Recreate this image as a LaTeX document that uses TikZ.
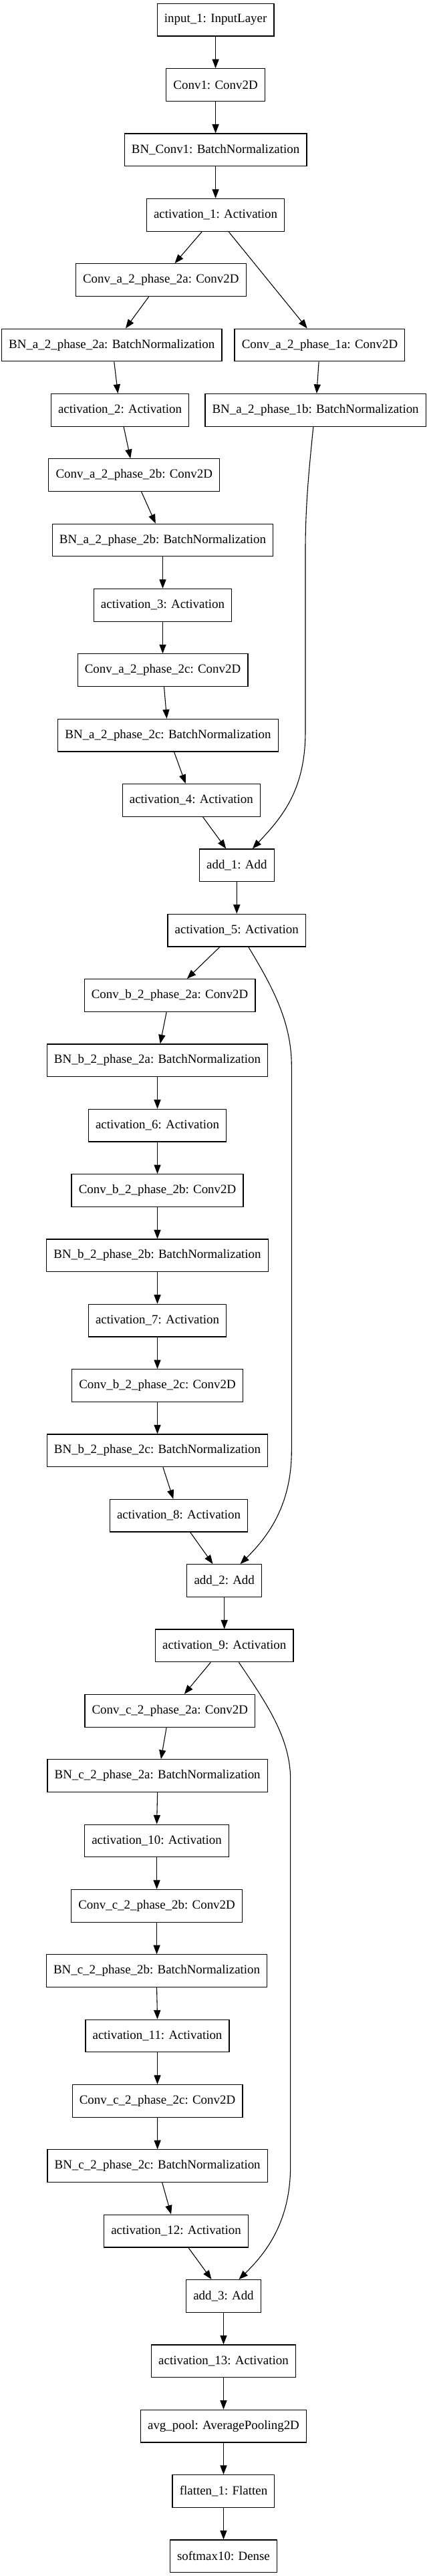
\documentclass[tikz,border=0pt]{standalone}
\usepackage{fontspec}
\setmainfont{Liberation Serif}
\usetikzlibrary{arrows.meta}
\tikzset{
  box/.style={draw, line width=0.9pt, rectangle, minimum height=36pt, inner xsep=7.9pt, inner ysep=0pt, font=\fontsize{14}{16}\selectfont, anchor=center},
  edge/.style={line width=0.8pt, -{Triangle[length=10pt,width=7.5pt]}}
}
\begin{document}
\begin{tikzpicture}[x=1pt,y=1pt]
\useasboundingbox (0,0) rectangle (472.6,-2852);
\fill[white] (0,0) rectangle (472.6,-2852);
% nodes
\node[box] (n1) at (238.6,-22) {input\_1: InputLayer};
\node[box] (n2) at (238.6,-94) {Conv1: Conv2D};
\node[box] (n3) at (238.6,-166) {BN\_Conv1: BatchNormalization};
\node[box] (n4) at (238.6,-238) {activation\_1: Activation};
\node[box] (n5) at (178.1,-310) {Conv\_a\_2\_phase\_2a: Conv2D};
\node[box] (n6) at (123.7,-382) {BN\_a\_2\_phase\_2a: BatchNormalization};
\node[box] (n6b) at (353.9,-382) {Conv\_a\_2\_phase\_1a: Conv2D};
\node[box] (n7) at (132.8,-454) {activation\_2: Activation};
\node[box] (n7b) at (349.2,-454) {BN\_a\_2\_phase\_1b: BatchNormalization};
\node[box] (n8) at (148.5,-526) {Conv\_a\_2\_phase\_2b: Conv2D};
\node[box] (n9) at (180.1,-598) {BN\_a\_2\_phase\_2b: BatchNormalization};
\node[box] (n10) at (180.1,-670) {activation\_3: Activation};
\node[box] (n11) at (180.1,-742) {Conv\_a\_2\_phase\_2c: Conv2D};
\node[box] (n12) at (186.0,-814) {BN\_a\_2\_phase\_2c: BatchNormalization};
\node[box] (n13) at (211.8,-886) {activation\_4: Activation};
\node[box] (n14) at (262.1,-958) {add\_1: Add};
\node[box] (n15) at (262.0,-1030) {activation\_5: Activation};
\node[box] (n16) at (187.9,-1102) {Conv\_b\_2\_phase\_2a: Conv2D};
\node[box] (n17) at (174.2,-1174) {BN\_b\_2\_phase\_2a: BatchNormalization};
\node[box] (n18) at (174.2,-1246) {activation\_6: Activation};
\node[box] (n19) at (174.2,-1318) {Conv\_b\_2\_phase\_2b: Conv2D};
\node[box] (n20) at (174.2,-1390) {BN\_b\_2\_phase\_2b: BatchNormalization};
\node[box] (n21) at (174.2,-1462) {activation\_7: Activation};
\node[box] (n22) at (174.2,-1534) {Conv\_b\_2\_phase\_2c: Conv2D};
\node[box] (n23) at (174.2,-1606) {BN\_b\_2\_phase\_2c: BatchNormalization};
\node[box] (n24) at (197.9,-1678) {activation\_8: Activation};
\node[box] (n25) at (248.3,-1750) {add\_2: Add};
\node[box] (n26) at (248.3,-1822) {activation\_9: Activation};
\node[box] (n27) at (188.1,-1894) {Conv\_c\_2\_phase\_2a: Conv2D};
\node[box] (n28) at (174.3,-1966) {BN\_c\_2\_phase\_2a: BatchNormalization};
\node[box] (n29) at (173.5,-2038) {activation\_10: Activation};
\node[box] (n30) at (173.5,-2110) {Conv\_c\_2\_phase\_2b: Conv2D};
\node[box] (n31) at (173.5,-2182) {BN\_c\_2\_phase\_2b: BatchNormalization};
\node[box] (n32) at (174.2,-2254) {activation\_11: Activation};
\node[box] (n33) at (174.2,-2326) {Conv\_c\_2\_phase\_2c: Conv2D};
\node[box] (n34) at (174.3,-2398) {BN\_c\_2\_phase\_2c: BatchNormalization};
\node[box] (n35) at (194.9,-2470) {activation\_12: Activation};
\node[box] (n36) at (247.4,-2542) {add\_3: Add};
\node[box] (n37) at (247.4,-2614) {activation\_13: Activation};
\node[box] (n38) at (247.4,-2686) {avg\_pool: AveragePooling2D};
\node[box] (n39) at (247.4,-2758) {flatten\_1: Flatten};
\node[box] (n40) at (247.4,-2830) {softmax10: Dense};
% edges
\draw[edge] (n1) -- (n2);
\draw[edge] (n2) -- (n3);
\draw[edge] (n3) -- (n4);
\draw[edge] ([xshift=-15pt]n4.south) -- ([xshift=15.3pt]n5.north);
\draw[edge] ([xshift=14.4pt]n4.south) -- ([xshift=-13.9pt]n6b.north);
\draw[edge] ([xshift=-13.4pt]n5.south) -- ([xshift=15.3pt]n6.north);
\draw[edge] ([xshift=2.6pt]n6.south) -- ([xshift=-2.3pt]n7.north);
\draw[edge] ([xshift=-1pt]n6b.south) -- ([xshift=1.3pt]n7b.north);
\draw[edge] ([xshift=4.1pt]n7.south) -- ([xshift=-4.1pt]n8.north);
\draw[edge] ([xshift=8pt]n8.south) -- ([xshift=-7.9pt]n9.north);
\draw[edge] (n9) -- (n10);
\draw[edge] (n10) -- (n11);
\draw[edge] ([xshift=1.5pt]n11.south) -- ([xshift=-1.4pt]n12.north);
\draw[edge] ([xshift=6.7pt]n12.south) -- ([xshift=-6.4pt]n13.north);
\draw[edge] ([xshift=12.7pt]n13.south) -- ([xshift=-11.9pt]n14.north);
\draw[edge] ([xshift=-2.4pt]n7b.south) .. controls (342,-520) and (338,-560) .. (338,-610)
  -- (338,-810) .. controls (338,-875) and (312,-905) .. ([xshift=17.4pt]n14.north);
\draw[edge] (n14) -- (n15);
\draw[edge] ([xshift=-18.8pt]n15.south) -- ([xshift=19.1pt]n16.north);
\draw[edge] ([xshift=13pt]n15.south) .. controls (300,-1090) and (322.7,-1130) .. (322.7,-1180)
  -- (322.7,-1606) .. controls (322.7,-1665) and (298,-1700) .. ([xshift=17.6pt]n25.north);
\draw[edge] ([xshift=-3.6pt]n16.south) -- ([xshift=3.1pt]n17.north);
\draw[edge] (n17) -- (n18);
\draw[edge] (n18) -- (n19);
\draw[edge] (n19) -- (n20);
\draw[edge] (n20) -- (n21);
\draw[edge] (n21) -- (n22);
\draw[edge] (n22) -- (n23);
\draw[edge] ([xshift=6.2pt]n23.south) -- ([xshift=-6.1pt]n24.north);
\draw[edge] ([xshift=12.7pt]n24.south) -- ([xshift=-12.7pt]n25.north);
\draw[edge] (n25) -- (n26);
\draw[edge] ([xshift=-15.1pt]n26.south) -- ([xshift=15.9pt]n27.north);
\draw[edge] ([xshift=16.1pt]n26.south) .. controls (292,-1882) and (321.5,-1922) .. (321.5,-1970)
  -- (321.5,-2398) .. controls (321.5,-2457) and (297,-2492) .. ([xshift=17pt]n36.north);
\draw[edge] ([xshift=-3.8pt]n27.south) -- ([xshift=3.9pt]n28.north);
\draw[edge] (n28.south) -- (n29.north);
\draw[edge] (n29) -- (n30);
\draw[edge] (n30) -- (n31);
\draw[edge] (n31.south) -- (n32.north);
\draw[edge] (n32) -- (n33);
\draw[edge] (n33) -- (n34);
\draw[edge] ([xshift=5.2pt]n34.south) -- ([xshift=-5.5pt]n35.north);
\draw[edge] ([xshift=13.6pt]n35.south) -- ([xshift=-13.3pt]n36.north);
\draw[edge] (n36) -- (n37);
\draw[edge] (n37) -- (n38);
\draw[edge] (n38) -- (n39);
\draw[edge] (n39) -- (n40);
\end{tikzpicture}
\end{document}
